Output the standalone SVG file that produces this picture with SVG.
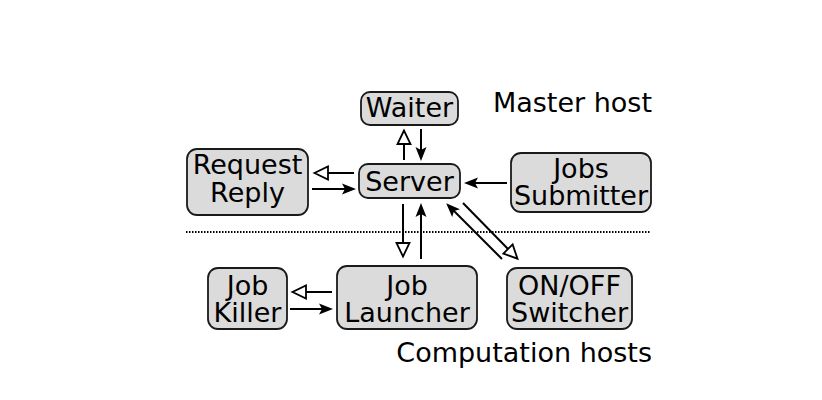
<svg xmlns="http://www.w3.org/2000/svg" width="822" height="400" viewBox="0 0 822 400">
<style>
.box{fill:#dbdbdb;stroke:#1a1a1a;stroke-width:1.8}
.t{font-family:"DejaVu Sans",sans-serif;font-size:27px;fill:#000;text-anchor:middle}
.lab{font-family:"DejaVu Sans",sans-serif;font-size:27px;fill:#000;text-anchor:end}
.cf{fill:none;stroke:#000;stroke-width:2;marker-end:url(#af)}
.co{fill:none;stroke:#000;stroke-width:2;marker-end:url(#ao)}
</style>
<defs>
<marker id="af" markerUnits="userSpaceOnUse" markerWidth="26" markerHeight="16" viewBox="-13 -8 26 16" refX="0" refY="0" orient="auto" overflow="visible">
<path d="M4,0 L-10,-5.5 L-7,0 L-10,5.5 Z" fill="#000"/>
</marker>
<marker id="ao" markerUnits="userSpaceOnUse" markerWidth="26" markerHeight="20" viewBox="-4 -10 26 20" refX="0" refY="0" orient="auto" overflow="visible">
<path d="M13.5,0 L0,-6.5 L0,6.5 Z" fill="#fff" stroke="#000" stroke-width="1.8"/>
</marker>
</defs>
<rect width="822" height="400" fill="#fff"/>
<g id="connectors">
<line class="co" x1="354" y1="173" x2="328" y2="173"/>
<line class="cf" x1="312" y1="189" x2="352" y2="189"/>
<line class="co" x1="404" y1="160" x2="404" y2="144"/>
<line class="cf" x1="421" y1="129" x2="421" y2="157"/>
<line class="cf" x1="507" y1="183" x2="468" y2="183"/>
<line class="co" x1="403" y1="204" x2="403" y2="243"/>
<line class="cf" x1="421" y1="259" x2="421" y2="207"/>
<line class="cf" x1="502" y1="259" x2="449" y2="206"/>
<line class="co" x1="463" y1="203" x2="508" y2="249"/>
<line class="co" x1="332" y1="292" x2="306" y2="292"/>
<line class="cf" x1="290" y1="309" x2="329" y2="309"/>
<line x1="186" y1="232" x2="650" y2="232" stroke="#000" stroke-width="2" stroke-dasharray="1.5 1.5"/>
</g>
<g id="waiter">
<rect class="box" x="361" y="92" width="97" height="33" rx="9"/>
<text class="t" x="409.5" y="117">Waiter</text>
</g>
<g id="server">
<rect class="box" x="359" y="164" width="101" height="34" rx="9"/>
<text class="t" x="409.5" y="191">Server</text>
</g>
<g id="request-reply">
<rect class="box" x="187" y="149" width="121" height="66" rx="10"/>
<text class="t" x="247.5" y="174">Request</text>
<text class="t" x="247.5" y="202">Reply</text>
</g>
<g id="jobs-submitter">
<rect class="box" x="511" y="153" width="140" height="59" rx="10"/>
<text class="t" x="581" y="178">Jobs</text>
<text class="t" x="581" y="205">Submitter</text>
</g>
<g id="job-killer">
<rect class="box" x="208" y="268" width="79" height="61" rx="10"/>
<text class="t" x="247.5" y="295">Job</text>
<text class="t" x="247.5" y="322">Killer</text>
</g>
<g id="job-launcher">
<rect class="box" x="337" y="266" width="140" height="63" rx="10"/>
<text class="t" x="407" y="295">Job</text>
<text class="t" x="407" y="322">Launcher</text>
</g>
<g id="onoff-switcher">
<rect class="box" x="507" y="268" width="125" height="61" rx="10"/>
<text class="t" x="569.5" y="295">ON/OFF</text>
<text class="t" x="569.5" y="322">Switcher</text>
</g>
<g id="labels">
<text class="lab" x="652" y="112">Master host</text>
<text class="lab" x="652" y="362">Computation hosts</text>
</g>
</svg>
